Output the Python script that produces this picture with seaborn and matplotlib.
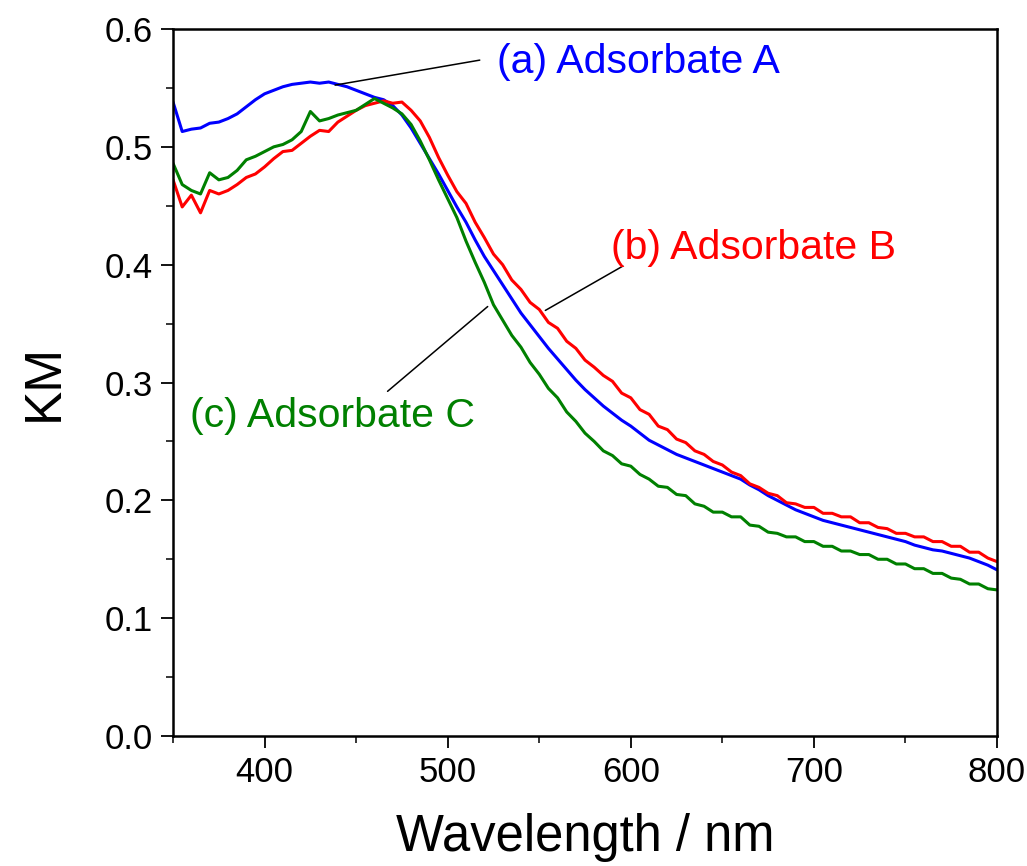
import numpy as np
import pandas as pd
import matplotlib
matplotlib.use("Agg")
import matplotlib.pyplot as plt
from matplotlib.ticker import MultipleLocator, FormatStrFormatter
import seaborn as sns

wavelength = np.arange(350, 805, 5)

km_a = [0.538, 0.513, 0.515, 0.516, 0.520, 0.521, 0.524, 0.528, 0.534, 0.540,
        0.545, 0.548, 0.551, 0.553, 0.554, 0.555, 0.554, 0.555, 0.553, 0.551,
        0.548, 0.545, 0.542, 0.540, 0.535, 0.527, 0.516, 0.503, 0.490, 0.477,
        0.463, 0.449, 0.436, 0.421, 0.407, 0.395, 0.383, 0.371, 0.359, 0.349,
        0.339, 0.329, 0.320, 0.311, 0.302, 0.294, 0.287, 0.280, 0.274, 0.268,
        0.263, 0.257, 0.251, 0.247, 0.243, 0.239, 0.236, 0.233, 0.230, 0.227,
        0.224, 0.221, 0.218, 0.213, 0.209, 0.204, 0.200, 0.196, 0.192, 0.189,
        0.186, 0.183, 0.181, 0.179, 0.177, 0.175, 0.173, 0.171, 0.169, 0.167,
        0.165, 0.162, 0.160, 0.158, 0.157, 0.155, 0.153, 0.151, 0.148, 0.145,
        0.141]

km_b = [0.472, 0.449, 0.459, 0.444, 0.463, 0.460, 0.463, 0.468, 0.474, 0.477,
        0.483, 0.490, 0.496, 0.497, 0.503, 0.509, 0.514, 0.513, 0.521, 0.526,
        0.531, 0.535, 0.537, 0.539, 0.537, 0.538, 0.531, 0.522, 0.508, 0.491,
        0.476, 0.462, 0.452, 0.436, 0.423, 0.409, 0.400, 0.387, 0.379, 0.368,
        0.362, 0.351, 0.346, 0.335, 0.329, 0.319, 0.313, 0.306, 0.301, 0.291,
        0.287, 0.277, 0.273, 0.263, 0.260, 0.252, 0.249, 0.242, 0.239, 0.233,
        0.230, 0.224, 0.221, 0.214, 0.211, 0.206, 0.204, 0.198, 0.197, 0.194,
        0.194, 0.189, 0.189, 0.186, 0.186, 0.181, 0.181, 0.177, 0.176, 0.172,
        0.172, 0.169, 0.169, 0.165, 0.165, 0.161, 0.161, 0.156, 0.156, 0.151,
        0.148]

km_c = [0.486, 0.468, 0.463, 0.460, 0.478, 0.472, 0.474, 0.480, 0.489, 0.492,
        0.496, 0.500, 0.502, 0.506, 0.513, 0.530, 0.522, 0.524, 0.527, 0.529,
        0.531, 0.536, 0.541, 0.537, 0.533, 0.528, 0.519, 0.505, 0.489, 0.472,
        0.456, 0.440, 0.420, 0.402, 0.385, 0.366, 0.353, 0.340, 0.330, 0.317,
        0.307, 0.295, 0.287, 0.275, 0.267, 0.257, 0.250, 0.242, 0.238, 0.231,
        0.229, 0.222, 0.218, 0.212, 0.211, 0.205, 0.204, 0.197, 0.195, 0.190,
        0.190, 0.186, 0.186, 0.179, 0.178, 0.173, 0.172, 0.169, 0.169, 0.165,
        0.165, 0.161, 0.161, 0.157, 0.157, 0.154, 0.154, 0.150, 0.150, 0.146,
        0.146, 0.142, 0.142, 0.138, 0.138, 0.134, 0.133, 0.129, 0.129, 0.125,
        0.124]

labels = ["(a) Adsorbate A", "(b) Adsorbate B", "(c) Adsorbate C"]
colors = ["#0000ff", "#ff0000", "#008000"]

df = pd.DataFrame({
    "wavelength": np.tile(wavelength, 3),
    "km": km_a + km_b + km_c,
    "sample": np.repeat(labels, len(wavelength)),
})

sns.set_theme(style="ticks")
plt.rcParams["font.family"] = ["Liberation Sans", "DejaVu Sans"]

fig = plt.figure(figsize=(10.27, 8.66), dpi=100)
ax = fig.add_axes([0.1685, 0.1501, 0.8023, 0.8164])

sns.lineplot(data=df, x="wavelength", y="km", hue="sample", palette=colors,
             linewidth=2.2, legend=False, ax=ax)

ax.set_xlim(350, 800)
ax.set_ylim(0, 0.6)
ax.xaxis.set_major_locator(MultipleLocator(100))
ax.xaxis.set_minor_locator(MultipleLocator(50))
ax.yaxis.set_major_locator(MultipleLocator(0.1))
ax.yaxis.set_minor_locator(MultipleLocator(0.05))
ax.yaxis.set_major_formatter(FormatStrFormatter("%.1f"))
ax.tick_params(which="major", direction="out", length=8.5, width=1.3,
               labelsize=25, colors="black", pad=6)
ax.tick_params(which="minor", direction="out", length=5, width=1.3)
ax.tick_params(top=False, right=False)
for s in ax.spines.values():
    s.set_visible(True)
    s.set_linewidth(1.8)
    s.set_color("black")

ax.set_xlabel("Wavelength / nm", fontsize=36.5, labelpad=17, color="black")
ax.set_ylabel("KM", fontsize=37, labelpad=26, color="black")

# label lines
line_kw = dict(arrowstyle="-", color="black", lw=1.1)
ax.annotate("", xy=(437, 0.552), xytext=(519, 0.574), arrowprops=line_kw)
ax.annotate("", xy=(552, 0.360), xytext=(597, 0.400), arrowprops=line_kw)
ax.annotate("", xy=(523, 0.366), xytext=(466, 0.291), arrowprops=line_kw)

ax.text(527, 0.572, labels[0], color=colors[0], fontsize=29.5, va="center", ha="left")
ax.text(589, 0.414, labels[1], color=colors[1], fontsize=29.5, va="center", ha="left")
ax.text(359, 0.272, labels[2], color=colors[2], fontsize=29.5, va="center", ha="left")

fig.savefig("out.png", dpi=100)
